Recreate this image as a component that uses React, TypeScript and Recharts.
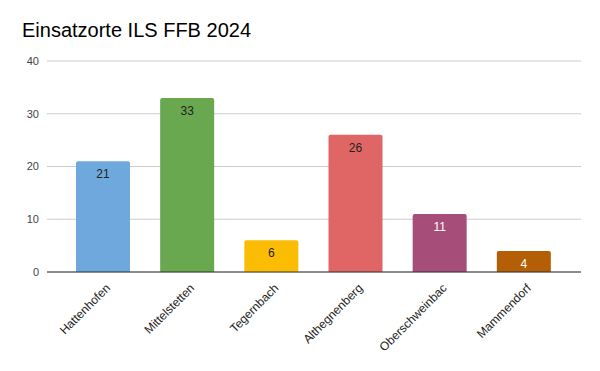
import React from 'react';
import { BarChart, Bar, XAxis, YAxis, CartesianGrid, LabelList, Cell } from 'recharts';

const places = ['Hattenhofen', 'Mittelstetten', 'Tegernbach', 'Althegnenberg', 'Oberschweinbach', 'Mammendorf'];
const counts = [21, 33, 6, 26, 11, 4];
const barColors = ['#6fa8dc', '#6aa84f', '#fbbc04', '#e06666', '#a64d79', '#b45f06'];
const labelColors = ['#222222', '#222222', '#222222', '#222222', '#ffffff', '#ffffff'];
const yTicks = [0, 10, 20, 30, 40];

const data = places.map((name, i) => ({ name, value: counts[i] }));

const FONT = 'Arial, "Liberation Sans", sans-serif';

const XTick = (props: any) => {
  const { x, y, payload } = props;
  const label = payload.value.length > 14 ? payload.value.slice(0, 14) : payload.value;
  return (
    <g transform={`translate(${x + 5},${y + 6})`}>
      <text
        textAnchor="end"
        transform="rotate(-45)"
        fontSize={12}
        fontFamily={FONT}
        fill="#222"
        dy={4}
      >
        {label}
      </text>
    </g>
  );
};

const App = () => {
  return (
    <div style={{ width: 600, height: 371, position: 'relative', background: '#fff' }}>
      <style>{`body{margin:0}`}</style>
      <div
        style={{
          position: 'absolute',
          left: 22,
          top: 19,
          fontFamily: FONT,
          fontSize: 20,
          color: '#000',
        }}
      >
        Einsatzorte ILS FFB 2024
      </div>
      <BarChart
        width={600}
        height={371}
        data={data}
        margin={{ top: 61, right: 19, left: 0, bottom: 0 }}
        barSize={54}
      >
        <CartesianGrid vertical={false} stroke="#cccccc" />
        <XAxis
          dataKey="name"
          interval={0}
          tick={<XTick />}
          tickLine={false}
          axisLine={{ stroke: '#333' }}
          padding={{ left: 14, right: 15 }}
          height={99}
        />
        <YAxis
          width={47}
          domain={[0, 40]}
          ticks={yTicks}
          axisLine={false}
          tickLine={false}
          tick={{ fontSize: 11, fill: '#444', fontFamily: FONT }}
        />
        <Bar dataKey="value" isAnimationActive={false} radius={[2, 2, 0, 0]}>
          {data.map((d, i) => (
            <Cell key={d.name} fill={barColors[i]} />
          ))}
          <LabelList
            dataKey="value"
            content={(p: any) => {
              const { x, y, width, value, index } = p;
              return (
                <text
                  x={x + width / 2}
                  y={y + 17}
                  textAnchor="middle"
                  fontSize={12}
                  fontFamily={FONT}
                  fill={labelColors[index]}
                >
                  {value}
                </text>
              );
            }}
          />
        </Bar>
      </BarChart>
    </div>
  );
};

export default App;
